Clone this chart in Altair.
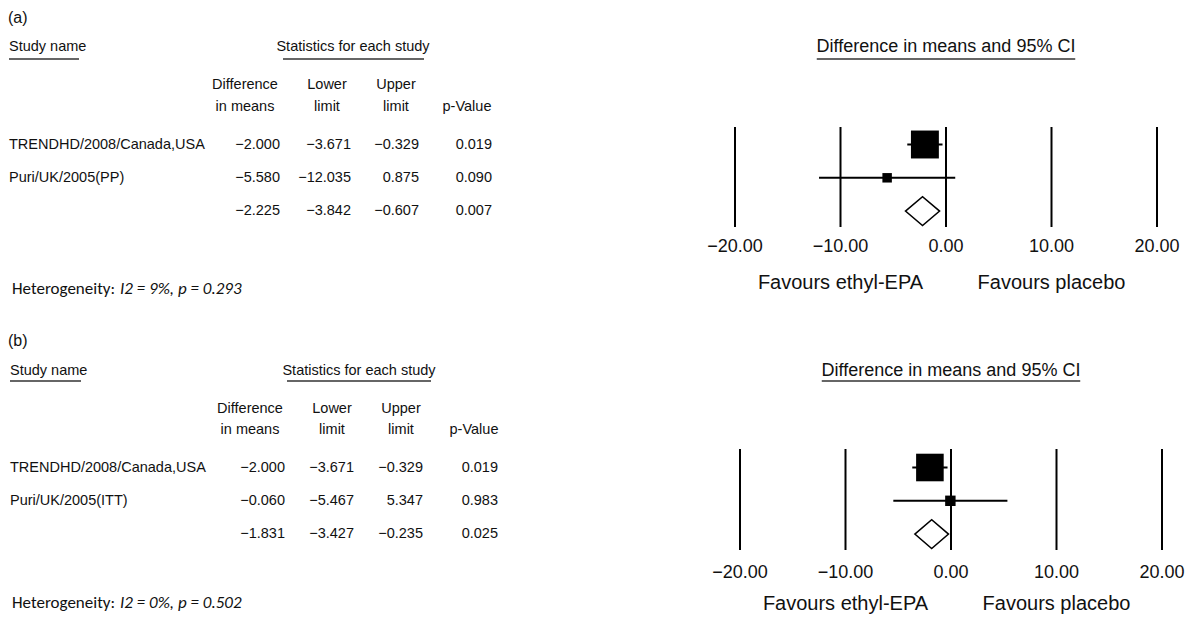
import altair as alt
import pandas as pd

# ---------------- data ----------------
names_a = ["TRENDHD/2008/Canada,USA", "Puri/UK/2005(PP)", ""]
diff_a = [-2.000, -5.580, -2.225]
lower_a = [-3.671, -12.035, -3.842]
upper_a = [-0.329, 0.875, -0.607]
p_a = [0.019, 0.090, 0.007]
weight_a = [93.7, 6.3]
het_a = "I2 = 9%, p = 0.293"

names_b = ["TRENDHD/2008/Canada,USA", "Puri/UK/2005(ITT)", ""]
diff_b = [-2.000, -0.060, -1.831]
lower_b = [-3.671, -5.467, -3.427]
upper_b = [-0.329, 5.347, -0.235]
p_b = [0.019, 0.983, 0.025]
weight_b = [91.3, 8.7]
het_b = "I2 = 0%, p = 0.502"

ticks = [-20, -10, 0, 10, 20]
favours = ["Favours ethyl-EPA", "Favours placebo"]
favours_pos = [-10, 10]

TABLE_FONT = "Liberation Sans"
TS = 14.5
PLOT_FONT = "Liberation Sans"
HET_FONT = "Carlito, Lato"
W = 1178


def panel(tag, names, diff, lower, upper, pv, weight, het, H, xdom, ydom, L):
    oy = L["oy"]
    rows = [1, 2, 3]
    df = pd.DataFrame({"row": rows, "name": names, "diff": diff,
                       "lower": lower, "upper": upper, "p": pv})
    studies = df.iloc[:2].copy()
    studies["weight"] = weight
    pooled = df.iloc[2]
    h = 0.435
    dia = pd.DataFrame({
        "x": [pooled["lower"], pooled["diff"], pooled["upper"]],
        "y": [3, 3 - h, 3],
        "y2": [3, 3 + h, 3],
    })
    tdf = pd.DataFrame({"tick": ticks})
    fdf = pd.DataFrame({"pos": favours_pos, "label": favours})

    xs = alt.Scale(domain=xdom, nice=False, zero=False)
    ys = alt.Scale(domain=ydom, reverse=True, nice=False, zero=False)
    X = lambda f: alt.X(f, type="quantitative", scale=xs, axis=None)
    Y = lambda f: alt.Y(f, type="quantitative", scale=ys, axis=None)
    V = lambda v: alt.value(v + oy)

    one = pd.DataFrame({"a": [0]})
    layers = []

    def label(txt, x, y, size, font=TABLE_FONT, align="left", style="normal"):
        layers.append(alt.Chart(one).mark_text(
            text=txt, align=align, baseline="middle", fontSize=size,
            font=font, fontStyle=style, color="#111").encode(
            x=alt.value(x), y=V(y)))

    def uline(x1, x2, y):
        layers.append(alt.Chart(one).mark_rule(color="#333", strokeWidth=1.5).encode(
            x=alt.value(x1), x2=alt.value(x2), y=V(y)))

    # headers
    label(tag, L["tag"][0], L["tag"][1], 16)
    label("Study name", L["sn"][0], L["hy"], TS)
    uline(L["snu"][0], L["snu"][1], L["uy"])
    label("Statistics for each study", L["st"][0], L["hy"], TS, align="center")
    uline(L["stu"][0], L["stu"][1], L["uy"])
    for (t1, t2), cx in zip([("Difference", "in means"), ("Lower", "limit"),
                             ("Upper", "limit"), ("", "p-Value")], L["hcols"]):
        if t1:
            label(t1, cx, L["h1"], TS, align="center")
        label(t2, cx, L["h2"], TS, align="center")

    # right header (centered at 0 on the forest scale)
    layers.append(alt.Chart(pd.DataFrame({"c": [0]})).mark_text(
        text="Difference in means and 95% CI", fontSize=18, font=PLOT_FONT,
        baseline="middle", color="#111").encode(x=X("c"), y=V(L["hy"])))
    layers.append(alt.Chart(pd.DataFrame({"a": [-12.25], "b": [12.25]})).mark_rule(
        color="#333", strokeWidth=1.5).encode(
        x=X("a"), x2=alt.X2("b"), y=V(L["uy"])))

    # table rows
    base = alt.Chart(df)
    layers.append(base.mark_text(align="left", baseline="middle", fontSize=TS,
                                 font=TABLE_FONT, color="#111").encode(
        x=alt.value(L["namex"]), y=Y("row"), text="name:N"))
    for col, rx in zip(["diff", "lower", "upper", "p"], L["vcols"]):
        layers.append(base.mark_text(align="right", baseline="middle", fontSize=TS,
                                     font=TABLE_FONT, color="#111").encode(
            x=alt.value(rx), y=Y("row"),
            text=alt.Text(col, type="quantitative", format=".3f")))

    # heterogeneity
    label("Heterogeneity:", L["het"][0], L["het"][2], 17, font=HET_FONT)
    label(het, L["het"][1], L["het"][2], 17, font=HET_FONT, style="italic")

    # forest plot
    layers.append(alt.Chart(tdf).mark_rule(color="#000", strokeWidth=2).encode(
        x=X("tick"), y=V(L["g"][0]), y2=V(L["g"][1])))
    layers.append(alt.Chart(tdf).mark_text(fontSize=18, font=PLOT_FONT, baseline="middle",
                                           color="#111").encode(
        x=X("tick"), y=V(L["tky"]),
        text=alt.Text("tick", type="quantitative", format=".2f")))
    layers.append(alt.Chart(fdf).mark_text(fontSize=20, font=PLOT_FONT, baseline="middle",
                                           color="#111").encode(
        x=X("pos"), y=V(L["fy"]), text="label:N"))
    layers.append(alt.Chart(studies).mark_rule(color="#000", strokeWidth=2).encode(
        x=X("lower"), x2=alt.X2("upper"), y=Y("row")))
    layers.append(alt.Chart(studies).mark_square(color="#000", opacity=1).encode(
        x=X("diff"), y=Y("row"),
        size=alt.Size("weight", type="quantitative",
                      scale=alt.Scale(domain=[0, 100], range=[40, 830]), legend=None)))
    layers.append(alt.Chart(dia).mark_area(fill="white", stroke="#000", strokeWidth=1.5,
                                           opacity=1).encode(
        x=X("x"), y=Y("y"), y2=alt.Y2("y2")))

    return alt.layer(*layers).properties(width=W, height=H)


K = 10.55
LA = dict(oy=2, tag=(0, 8), sn=(1,), snu=(1, 71), st=(345,), stu=(275, 416),
          hy=37, uy=49, h1=75, h2=97, hcols=[237, 319, 388, 459],
          vcols=[272, 343, 411, 484], namex=1, het=(4, 112, 279),
          g=(117, 217), tky=237, fy=273)
LB = dict(oy=3, tag=(0, 8), sn=(2,), snu=(2, 73), st=(351,), stu=(279, 423),
          hy=38, uy=48, h1=76, h2=97, hcols=[242, 324, 393, 466],
          vcols=[277, 346, 415, 490], namex=2, het=(4, 112, 270),
          g=(116, 217), tky=240, fy=271)

HA, HB = 302, 272
k_row = 33.3
d0a = 1 - (134.5 + LA["oy"]) / k_row
d0b = 1 - (134.5 + LB["oy"]) / k_row
xa0 = -20 - 727 / K
xb0 = -20 - 732 / K

pa = panel("(a)", names_a, diff_a, lower_a, upper_a, p_a, weight_a, het_a, HA,
           [xa0, xa0 + W / K], [d0a, d0a + HA / k_row], LA)
pb = panel("(b)", names_b, diff_b, lower_b, upper_b, p_b, weight_b, het_b, HB,
           [xb0, xb0 + W / K], [d0b, d0b + HB / k_row], LB)

chart = alt.vconcat(pa, pb, spacing=20).properties(
    padding=0, background="white").configure_view(strokeWidth=0, stroke="transparent")

chart.save("out.html", embed_options={"renderer": "svg", "actions": False})
